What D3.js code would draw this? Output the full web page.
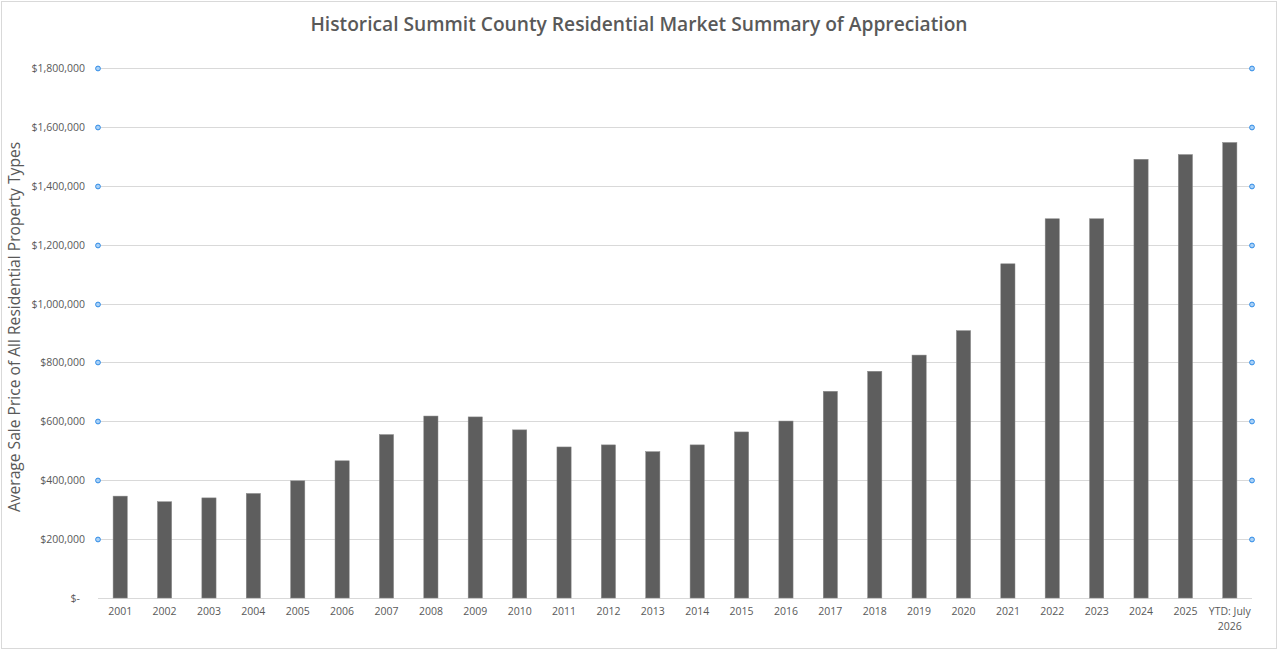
<!DOCTYPE html>
<html>
<head>
<meta charset="utf-8">
<script src="https://cdn.jsdelivr.net/npm/d3@7"></script>
<style>
  body { margin: 0; background: #fff; }
  svg text { font-family: "Open Sans", "Noto Sans", sans-serif; fill: #595959; }
</style>
</head>
<body>
<div id="chart"></div>
<script>
var years = ["2001", "2002", "2003", "2004", "2005", "2006", "2007", "2008", "2009", "2010",
             "2011", "2012", "2013", "2014", "2015", "2016", "2017", "2018", "2019", "2020",
             "2021", "2022", "2023", "2024", "2025", "YTD: July 2026"];
var avgPrice = [346000, 327000, 340000, 355000, 398000, 466000, 555000, 618000, 615000, 571000,
                513000, 520000, 497000, 520000, 564000, 601000, 702000, 770000, 825000, 908000,
                1135000, 1288000, 1288000, 1490000, 1506000, 1547000];
var yTicks = [0, 200000, 400000, 600000, 800000, 1000000, 1200000, 1400000, 1600000, 1800000];

var w = 1278, h = 650;
var plotLeft = 98, plotRight = 1252, plotTop = 68, plotBottom = 598;

var svg = d3.select("#chart").append("svg")
    .attr("width", w)
    .attr("height", h);

// chart border
svg.append("rect")
    .attr("x", 1.5).attr("y", 1.5)
    .attr("width", w - 3).attr("height", h - 3)
    .attr("fill", "#fff")
    .attr("stroke", "#d9d9d9");

var x = d3.scaleBand()
    .domain(years)
    .range([plotLeft, plotRight])
    .paddingInner(0.68)
    .paddingOuter(0.34);

var y = d3.scaleLinear()
    .domain([0, 1800000])
    .range([plotBottom, plotTop]);

// gridlines
svg.selectAll("line.grid")
    .data(yTicks)
    .enter()
    .append("line")
    .attr("class", "grid")
    .attr("x1", plotLeft).attr("x2", plotRight)
    .attr("y1", function(d){ return Math.round(y(d)) + 0.5; })
    .attr("y2", function(d){ return Math.round(y(d)) + 0.5; })
    .attr("stroke", "#d9d9d9")
    .attr("stroke-width", 1);

// y tick labels
var fmt = d3.format("$,");
svg.selectAll("text.ytick")
    .data(yTicks)
    .enter()
    .append("text")
    .attr("class", "ytick")
    .attr("x", function(d){ return d === 0 ? 80 : 85; })
    .attr("y", function(d){ return y(d) + 4; })
    .attr("text-anchor", "end")
    .style("font-size", "10.5px")
    .text(function(d){ return d === 0 ? "$-" : fmt(d); });

// bars
svg.selectAll("rect.bar")
    .data(avgPrice)
    .enter()
    .append("rect")
    .attr("class", "bar")
    .attr("x", function(d, i){ return x(years[i]); })
    .attr("y", function(d){ return y(d); })
    .attr("width", x.bandwidth())
    .attr("height", function(d){ return y(0) - y(d); })
    .attr("fill", "#5e5e5e")
    .attr("stroke", "#8a8a8a")
    .attr("stroke-width", 0.5);

// x labels
var xl = svg.selectAll("text.xtick")
    .data(years)
    .enter()
    .append("text")
    .attr("class", "xtick")
    .attr("text-anchor", "middle")
    .attr("y", 615)
    .style("font-size", "10.5px");

xl.each(function(d){
    var t = d3.select(this);
    var cx = x(d) + x.bandwidth() / 2;
    var parts = d === "YTD: July 2026" ? ["YTD: July", "2026"] : [d];
    parts.forEach(function(p, k){
        t.append("tspan")
            .attr("x", cx)
            .attr("dy", k === 0 ? 0 : 15)
            .text(p);
    });
});

// marker circles on both edges of each gridline
var marks = [];
yTicks.filter(function(d){ return d > 0; }).forEach(function(d){
    marks.push({ v: d, px: plotLeft });
    marks.push({ v: d, px: plotRight });
});
svg.selectAll("circle.mark")
    .data(marks)
    .enter()
    .append("circle")
    .attr("class", "mark")
    .attr("cx", function(d){ return d.px; })
    .attr("cy", function(d){ return Math.round(y(d.v)) + 0.5; })
    .attr("r", 2.4)
    .attr("fill", "#a9d1f7")
    .attr("stroke", "#2f8be6")
    .attr("stroke-width", 1);

// title
svg.append("text")
    .attr("x", 639)
    .attr("y", 31)
    .attr("text-anchor", "middle")
    .style("font-size", "19.2px")
    .style("font-weight", "600")
    .text("Historical Summit County Residential Market Summary of Appreciation");

// y axis title
svg.append("text")
    .attr("transform", "translate(20," + 327 + ") rotate(-90)")
    .attr("text-anchor", "middle")
    .style("font-size", "15.6px")
    .text("Average Sale Price of All Residential Property Types");
</script>
</body>
</html>
